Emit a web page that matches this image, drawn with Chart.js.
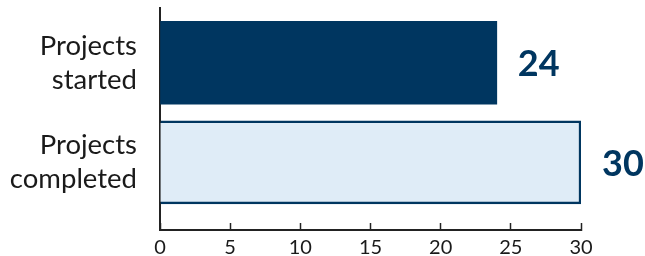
<!DOCTYPE html>
<html>
<head>
<meta charset="utf-8">
<script src="https://cdn.jsdelivr.net/npm/chart.js@4"></script>
<style>
  html, body { margin: 0; padding: 0; background: #fff; }
  #wrap { width: 645px; height: 256px; }
</style>
</head>
<body>
<div id="wrap"><canvas id="projectsChart"></canvas></div>
<script>
// data
const categories = [['Projects', 'started'], ['Projects', 'completed']];
const positions = [0, 1];
const values = [24, 30];
const xTicks = [0, 5, 10, 15, 20, 25, 30];

const navy = '#003660';
const lightBlue = '#dfecf7';

// value labels to the right of each bar
const valueLabels = {
    id: 'valueLabels',
    afterDatasetsDraw(chart) {
        const ctx = chart.ctx;
        const meta = chart.getDatasetMeta(0);
        ctx.save();
        ctx.fillStyle = navy;
        ctx.font = 'bold 36px Lato';
        ctx.textAlign = 'left';
        ctx.textBaseline = 'middle';
        meta.data.forEach((bar, i) => {
            ctx.fillText(String(values[i]), bar.x + 21, bar.y + 2);
        });
        ctx.restore();
    }
};

const ctx = document.getElementById('projectsChart').getContext('2d');
const chart = new Chart(ctx, {
    type: 'bar',
    data: {
        datasets: [{
            data: positions.map((p, i) => ({ x: values[i], y: p })),
            backgroundColor: [navy, lightBlue],
            borderColor: [navy, navy],
            borderWidth: [0, 2.5],
            borderSkipped: 'start',
            barThickness: 83
        }]
    },
    options: {
        indexAxis: 'y',
        responsive: true,
        maintainAspectRatio: false,
        animation: false,
        layout: { padding: { top: 8, right: 64, left: 0, bottom: 0 } },
        plugins: {
            legend: { display: false },
            tooltip: { enabled: false }
        },
        scales: {
            x: {
                type: 'linear',
                min: 0,
                max: 30,
                afterBuildTicks: (axis) => { axis.ticks = xTicks.map(v => ({ value: v })); },
                afterFit: (axis) => { axis.height = 26; axis.paddingLeft = 0; axis.paddingRight = 0; },
                grid: { drawOnChartArea: false, drawTicks: true, tickLength: -7, tickWidth: 1.5, tickColor: '#222' },
                border: { display: true, color: '#222', width: 2 },
                ticks: {
                    color: '#1a1a1a',
                    padding: 13,
                    maxRotation: 0,
                    font: { family: 'Lato', size: 20 }
                }
            },
            y: {
                type: 'linear',
                reverse: true,
                offset: false,
                grace: 0,
                min: -0.55,
                max: 1.68,
                afterBuildTicks: (axis) => { axis.ticks = positions.map(v => ({ value: v })); },
                afterFit: (axis) => { axis.width = 160; axis.paddingTop = 0; axis.paddingBottom = 0; },
                grid: { display: false, drawTicks: false, offset: false },
                border: { display: true, color: '#222', width: 2 },
                ticks: {
                    color: '#1a1a1a',
                    padding: 23,
                    callback: (v) => categories[v] || '',
                    font: { family: 'Lato', size: 27.5, lineHeight: 1.24 }
                }
            }
        }
    },
    plugins: [valueLabels]
});
</script>
</body>
</html>
